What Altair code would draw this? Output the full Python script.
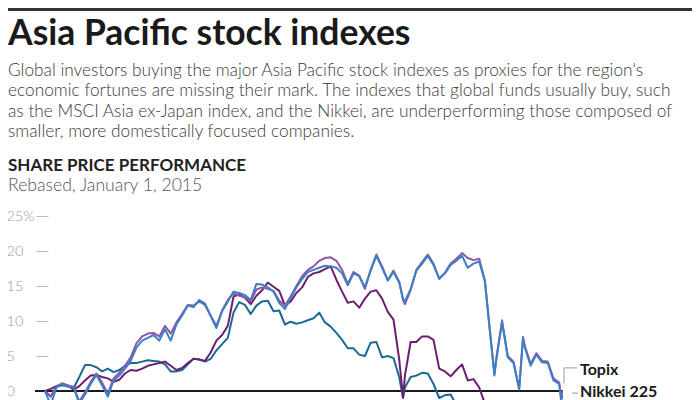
import altair as alt
import pandas as pd

# ---------------- data ----------------
dates = [
    "2015-01-01", "2015-01-04", "2015-01-07", "2015-01-10", "2015-01-13", "2015-01-16",
    "2015-01-19", "2015-01-22", "2015-01-25", "2015-01-28", "2015-01-31", "2015-02-03",
    "2015-02-06", "2015-02-09", "2015-02-12", "2015-02-15", "2015-02-18", "2015-02-21",
    "2015-02-24", "2015-02-27", "2015-03-02", "2015-03-05", "2015-03-08", "2015-03-11",
    "2015-03-14", "2015-03-17", "2015-03-20", "2015-03-23", "2015-03-26", "2015-03-29",
    "2015-04-01", "2015-04-04", "2015-04-07", "2015-04-10", "2015-04-13", "2015-04-16",
    "2015-04-19", "2015-04-22", "2015-04-25", "2015-04-28", "2015-05-01", "2015-05-04",
    "2015-05-07", "2015-05-10", "2015-05-13", "2015-05-16", "2015-05-19", "2015-05-22",
    "2015-05-25", "2015-05-28", "2015-05-31", "2015-06-03", "2015-06-06", "2015-06-09",
    "2015-06-12", "2015-06-15", "2015-06-18", "2015-06-21", "2015-06-24", "2015-06-27",
    "2015-06-30", "2015-07-03", "2015-07-06", "2015-07-08", "2015-07-09", "2015-07-12",
    "2015-07-15", "2015-07-18", "2015-07-21", "2015-07-24", "2015-07-27", "2015-07-30",
    "2015-08-02", "2015-08-05", "2015-08-08", "2015-08-11", "2015-08-14", "2015-08-17",
    "2015-08-20", "2015-08-23", "2015-08-25", "2015-08-26", "2015-08-29", "2015-09-01",
    "2015-09-04", "2015-09-07", "2015-09-09", "2015-09-10", "2015-09-13", "2015-09-16",
    "2015-09-19", "2015-09-22", "2015-09-25", "2015-09-28", "2015-09-29", "2015-09-30",
]

topix = [
    0.0, -2.0, 0.5, 1.0, 0.6, 0.5, -1.8, -0.5, 1.0, 2.3, 0.8, -0.8,
    1.5, 2.2, 3.2, 4.3, 6.2, 7.2, 7.6, 8.0, 7.2, 8.8, 7.2, 9.5,
    10.8, 12.2, 12.0, 13.0, 12.5, 10.7,
    9.0, 11.4, 12.8, 14.2, 14.0, 13.7, 13.0, 15.3, 15.2, 14.8, 14.2, 12.6,
    11.7, 13.3, 14.8, 16.0, 17.0, 17.3, 17.6, 17.9, 17.8, 17.6, 16.8, 15.1,
    16.8, 16.4, 14.8, 17.2, 19.3, 17.6, 15.8, 17.0, 15.5,
    13.2, 12.8, 14.6, 17.2, 18.2, 19.3, 18.0, 16.1, 16.8, 18.0, 18.6, 19.3,
    17.6, 18.2, 18.5, 15.6, 7.5,
    2.2, 4.5, 9.8, 4.8, 4.0, 0.2, 7.5, 6.2, 3.6, 5.2, 4.1, 4.0, 1.5, 1.0, -1.3, -0.6,
]

nikkei = [
    0.0, -0.8, 0.6, 1.1, 0.8, 0.6, -1.5, -0.2, 1.3, 2.5, 1.2, -0.4,
    1.8, 2.6, 3.6, 4.8, 6.8, 7.8, 8.2, 8.3, 7.8, 9.3, 8.2, 9.8,
    11.0, 12.3, 12.2, 12.8, 12.3, 10.8,
    9.3, 11.5, 13.0, 14.0, 13.6, 13.4, 12.8, 14.5, 14.8, 14.6, 14.3, 12.9,
    12.2, 13.5, 15.0, 16.4, 17.3, 17.8, 18.6, 19.0, 19.1, 18.6, 17.3, 15.3,
    17.0, 16.5, 14.6, 17.3, 19.5, 17.8, 15.8, 17.2, 15.6,
    13.0, 12.4, 14.4, 17.3, 18.4, 19.5, 18.2, 16.0, 16.9, 18.2, 18.9, 19.7,
    19.0, 18.7, 18.9, 15.8, 7.6,
    2.5, 4.7, 10.1, 5.0, 4.2, 0.4, 7.7, 6.4, 3.9, 5.4, 4.3, 4.2, 1.8, 1.2, -0.9, 0.1,
]

hang_seng = [
    0.0, 0.3, 0.7, 1.0, 0.8, 0.2, 0.7, 1.5, 2.2, 2.3, 2.0, 1.8,
    1.3, 1.6, 2.5, 3.0, 2.9, 3.2, 3.6, 3.8, 4.0, 4.2, 3.6, 3.0,
    3.3, 4.0, 4.6, 4.5, 4.3, 5.5,
    7.2, 8.0, 9.3, 13.5, 13.8, 13.3, 12.4, 13.6, 14.4, 15.5, 14.9, 14.3,
    12.2, 12.8, 14.0, 14.8, 16.3, 16.8, 17.0, 17.4, 17.8, 15.9, 14.2, 12.6,
    12.8, 11.9, 13.2, 14.2, 14.4, 13.2, 11.3, 10.2, 4.5,
    -0.9, 2.2, 7.0, 7.0, 7.8, 7.8, 7.3, 3.2, 2.8, 2.1, 3.0, 3.8,
    1.5, 1.7, 0.5, -1.8, -3.5,
    -9.0, -8.0, -6.0, -8.0, -8.5, -10.0, -7.0, -7.5, -9.0, -8.0, -9.0, -9.5, -10.5, -11.5, -12.0, -11.7,
]

msci_axj = [
    0.0, -0.8, 0.6, 0.8, 0.7, 0.4, 2.0, 3.7, 3.7, 3.4, 2.8, 3.2,
    2.7, 3.0, 3.6, 4.0, 4.0, 4.2, 4.4, 4.3, 4.2, 3.8, 2.8, 2.8,
    3.0, 3.8, 4.6, 4.5, 4.2, 4.6,
    5.8, 6.7, 7.6, 11.2, 12.7, 12.3, 11.0, 12.2, 12.8, 12.9, 11.4, 11.5,
    9.5, 9.9, 9.6, 9.8, 10.1, 10.4, 11.2, 9.8, 9.2, 8.3, 7.3, 6.1,
    6.1, 5.2, 5.0, 6.9, 7.0, 4.8, 5.0, 4.7, 2.0,
    -1.0, 0.5, 2.0, 2.2, 2.6, 2.5, 1.0, -1.0, -0.6, -0.5, -2.0, -3.0,
    -3.5, -3.0, -4.0, -5.0, -8.0,
    -12.0, -11.0, -9.0, -11.0, -11.5, -13.0, -10.5, -11.0, -12.0, -11.5, -12.0, -12.5, -13.0, -14.0, -14.5, -14.0,
]

series_names = ["MSCI Asia ex-Japan", "Hang Seng", "Nikkei 225", "Topix"]
series_values = [msci_axj, hang_seng, nikkei, topix]
series_colors = ["#1b6a94", "#6d1f6f", "#8e58a5", "#3d7fc4"]

end_labels = ["Topix", "Nikkei 225"]
end_label_y = [3.0, -0.15]

title_text = "Asia Pacific stock indexes"
subtitle_lines = [
    "Global investors buying the major Asia Pacific stock indexes as proxies for the region's",
    "economic fortunes are missing their mark. The indexes that global funds usually buy, such",
    "as the MSCI Asia ex-Japan index, and the Nikkei, are underperforming those composed of",
    "smaller, more domestically focused companies.",
]
heading = "SHARE PRICE PERFORMANCE"
subheading = "Rebased, January 1, 2015"
y_ticks = [0, 5, 10, 15, 20, 25]

# ---------------- build ----------------
rows = []
for name, vals in zip(series_names, series_values):
    for d, v in zip(dates, vals):
        rows.append({"date": d, "value": v, "series": name})
df = pd.DataFrame(rows)

W, H = 528, 184
FONT = "Lato"

x_enc = alt.X(
    "date:T",
    scale=alt.Scale(
        type="utc",
        domain=[
            alt.DateTime(year=2014, month=12, date=26, hours=18, utc=True),
            alt.DateTime(year=2015, month=9, date=30, utc=True),
        ],
    ),
    axis=None,
)
y_scale = alt.Scale(domain=[-9 / 7, 25], nice=False, zero=False)
y_axis = alt.Axis(
    values=y_ticks,
    labelExpr="datum.value == 25 ? '25%' : datum.label",
    labelOverlap=False,
    domain=False,
    grid=False,
    ticks=True,
    tickSize=12,
    tickColor="#bbbbbb",
    tickWidth=1,
    offset=-13,
    labelAlign="left",
    labelPadding=30,
    labelColor="#9a9a9a",
    labelFontSize=14.5,
    labelFont=FONT,
    labelFontWeight=300,
    labelBaseline="middle",
    title=None,
)


def yq(field):
    return alt.Y(field, scale=y_scale, axis=y_axis)


zero = alt.Chart(pd.DataFrame({"value": [0]})).mark_rule(
    color="#1a1a1a", strokeWidth=1.8
).encode(y=yq("value:Q"))

lines = []
for name, col in zip(series_names, series_colors):
    lines.append(
        alt.Chart(df)
        .transform_filter(alt.datum.series == name)
        .mark_line(color=col, strokeWidth=2, clip=True, strokeJoin="round")
        .encode(x=x_enc, y=yq("value:Q"))
    )

lab_df = pd.DataFrame({"label": end_labels, "value": end_label_y})
labels = alt.Chart(lab_df).mark_text(
    align="left", baseline="middle", font=FONT, fontSize=16, fontWeight="bold", color="#1a1a1a"
).encode(x=alt.value(545), y=yq("value:Q"), text="label:N")

conn_df = pd.DataFrame({"value": [3.3], "bottom": [1.1]})
conn_v = alt.Chart(conn_df).mark_rule(color="#999999", strokeWidth=1).encode(
    x=alt.value(529), y=yq("value:Q"), y2="bottom:Q"
)
conn_h = alt.Chart(conn_df).mark_rule(color="#999999", strokeWidth=1).encode(
    x=alt.value(529), x2=alt.value(542), y=yq("value:Q")
)
conn_n = alt.Chart(pd.DataFrame({"value": [-0.3]})).mark_rule(color="#999999", strokeWidth=1).encode(
    x=alt.value(537), x2=alt.value(543), y=yq("value:Q")
)

one = pd.DataFrame({"k": [0]})

title_mark = alt.Chart(one).mark_text(
    text=title_text, align="left", baseline="alphabetic", font=FONT, fontSize=35.5,
    fontWeight="bold", color="#1a1a1a"
).encode(x=alt.value(-27), y=alt.value(-171))

subtitle_mark = alt.Chart(one).mark_text(
    text=subtitle_lines, align="left", baseline="alphabetic", font=FONT, fontSize=17.3,
    fontWeight=300, color="#3a3a3a", lineHeight=20.3
).encode(x=alt.value(-27), y=alt.value(-140))

head1 = alt.Chart(one).mark_text(
    text=heading, align="left", baseline="middle", font=FONT, fontSize=17,
    fontWeight="bold", color="#222222"
).encode(x=alt.value(-27), y=alt.value(-50))
head2 = alt.Chart(one).mark_text(
    text=subheading, align="left", baseline="middle", font=FONT, fontSize=17.6,
    fontWeight=300, color="#555555"
).encode(x=alt.value(-27), y=alt.value(-30))

topbar = alt.Chart(one).mark_rule(color="#333333", strokeWidth=3).encode(
    x=alt.value(-27), x2=alt.value(W + 129), y=alt.value(-206.5)
)

chart = (
    alt.layer(zero, *lines, conn_v, conn_h, conn_n, labels,
              title_mark, subtitle_mark, head1, head2, topbar)
    .properties(
        width=W,
        height=H,
        autosize=alt.AutoSizeParams(type="none"),
        padding={"left": 27, "top": 208, "right": 129, "bottom": 0},
    )
    .configure_view(strokeWidth=0)
)

chart.save("out.html", embed_options={"renderer": "svg", "actions": False})
